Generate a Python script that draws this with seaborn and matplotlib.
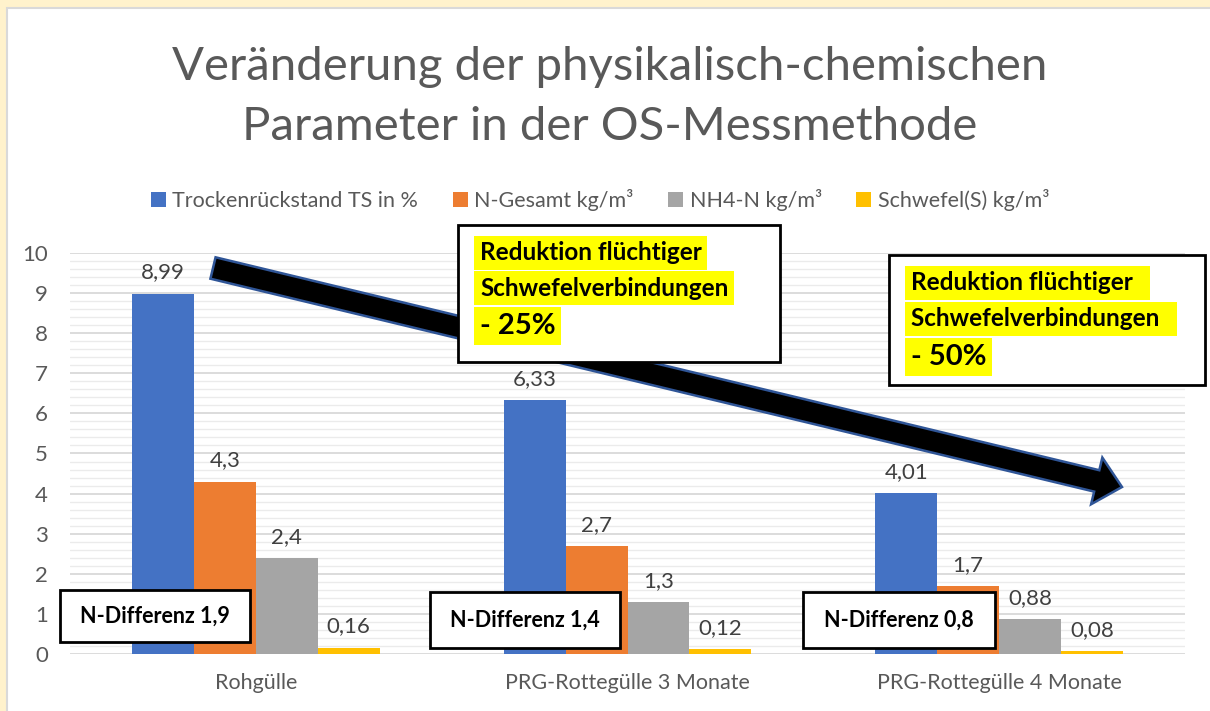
import pandas as pd
import matplotlib.pyplot as plt
import seaborn as sns
from matplotlib.patches import Rectangle, FancyArrow
from matplotlib.transforms import Affine2D
from matplotlib.ticker import MultipleLocator

sns.set_theme(style="white")
plt.rcParams['font.family'] = ['Lato', 'DejaVu Sans']

# data
categories = ['Rohgülle', 'PRG-Rottegülle 3 Monate', 'PRG-Rottegülle 4 Monate']
series = ['Trockenrückstand TS in %', 'N-Gesamt kg/m³', 'NH4-N kg/m³', 'Schwefel(S) kg/m³']
ts_values = [8.99, 6.33, 4.01]
n_values = [4.3, 2.7, 1.7]
nh4_values = [2.4, 1.3, 0.88]
s_values = [0.16, 0.12, 0.08]
n_diff = ['N-Differenz 1,9', 'N-Differenz 1,4', 'N-Differenz 0,8']
colors = ['#4472C4', '#ED7D31', '#A5A5A5', '#FFC000']

rows = []
for name, vals in zip(series, [ts_values, n_values, nh4_values, s_values]):
    for cat, v in zip(categories, vals):
        rows.append({'Kategorie': cat, 'Parameter': name, 'Wert': v})
df = pd.DataFrame(rows)

W, H = 1210, 711
fig = plt.figure(figsize=(W / 100, H / 100), dpi=100)
fig.patch.set_facecolor('#FFF2CC')
# pixel transform, origin top-left
px = Affine2D().scale(1, -1).translate(0, H)

fig.patches.append(Rectangle((7, 8), W, H, transform=px, facecolor='white',
                             edgecolor='#D9D9D9', lw=1.5, zorder=-5))

ax = fig.add_axes([70 / W, 1 - 654 / H, 1115 / W, (654 - 253) / H])
ax.set_zorder(1)
ax.set_facecolor('none')
sns.barplot(data=df, x='Kategorie', y='Wert', hue='Parameter', palette=colors,
            width=0.667, gap=0, saturation=1, linewidth=0, ax=ax, legend=True, zorder=3)
ax.set_ylim(0, 10)
ax.set_xlim(-0.5, 2.5)
ax.yaxis.set_major_locator(MultipleLocator(1))
ax.yaxis.set_minor_locator(MultipleLocator(0.2))
ax.grid(axis='y', which='major', color='#D9D9D9', lw=1.3, zorder=0)
ax.grid(axis='y', which='minor', color='#EBEBEB', lw=1.0, zorder=0)
ax.set_axisbelow(True)
for s in ax.spines.values():
    s.set_visible(False)
ax.set_xlabel('')
ax.set_ylabel('')
ax.tick_params(axis='y', which='both', length=0, labelsize=16, labelcolor='#595959', pad=16)
ax.tick_params(axis='x', length=0, labelsize=15.5, labelcolor='#595959', pad=14)

for cont in ax.containers:
    labels = [f'{b.get_height():g}'.replace('.', ',') for b in cont]
    ax.bar_label(cont, labels=labels, padding=8, fontsize=16, color='#404040')

handles, labs = ax.get_legend_handles_labels()
ax.legend(handles, labs, loc='center', bbox_to_anchor=(600 / W, 1 - 200 / H),
          bbox_transform=fig.transFigure, ncol=4, frameon=False,
          fontsize=15.5, labelcolor='#595959', handlelength=0.7,
          handleheight=0.7, handletextpad=0.3, columnspacing=1.6)

fig.text(610 / W, 1 - 97 / H, 'Veränderung der physikalisch-chemischen\nParameter in der OS-Messmethode',
         ha='center', va='center', fontsize=34, color='#595959', linespacing=1.5)

# overlays drawn on top of the axes
ov = 10

fig.patches.append(FancyArrow(213, 268, 909, 219, width=22, head_width=48, head_length=26,
                              length_includes_head=True, transform=px, facecolor='black',
                              edgecolor='#2F5597', lw=1.8, zorder=ov))

def box(x0, y0, x1, y1):
    fig.patches.append(Rectangle((x0, y0), x1 - x0, y1 - y0, transform=px, facecolor='white',
                                 edgecolor='black', lw=2, zorder=ov + 1))

# N-Differenz boxes
for (x0, y0, x1, y1), t in zip([(60, 590, 250, 642), (430, 592, 620, 648), (803, 592, 995, 648)], n_diff):
    box(x0, y0, x1, y1)
    fig.text((x0 + x1) / 2, (y0 + y1) / 2, t, transform=px, ha='center', va='center',
             fontsize=15.5, fontweight='bold', color='black', zorder=ov + 2)

# reduction boxes
for (x0, y0, x1, y1), lines in [((458, 225, 780, 362), [('Reduktion flüchtiger', 253), ('Schwefelverbindungen', 288), ('- 25%', 326)]),
                                ((889, 255, 1205, 385), [('Reduktion flüchtiger  ', 283), ('Schwefelverbindungen  ', 319), ('- 50%', 357)])]:
    box(x0, y0, x1, y1)
    for i, (t, yc) in enumerate(lines):
        fig.text(x0 + 22, yc, t, transform=px, ha='left', va='center',
                 fontsize=21 if i == 2 else 17.5, fontweight='bold', color='black', zorder=ov + 2,
                 bbox=dict(facecolor='#FFFF00', edgecolor='none', pad=4))

fig.savefig('out.png', dpi=100, facecolor=fig.get_facecolor())
